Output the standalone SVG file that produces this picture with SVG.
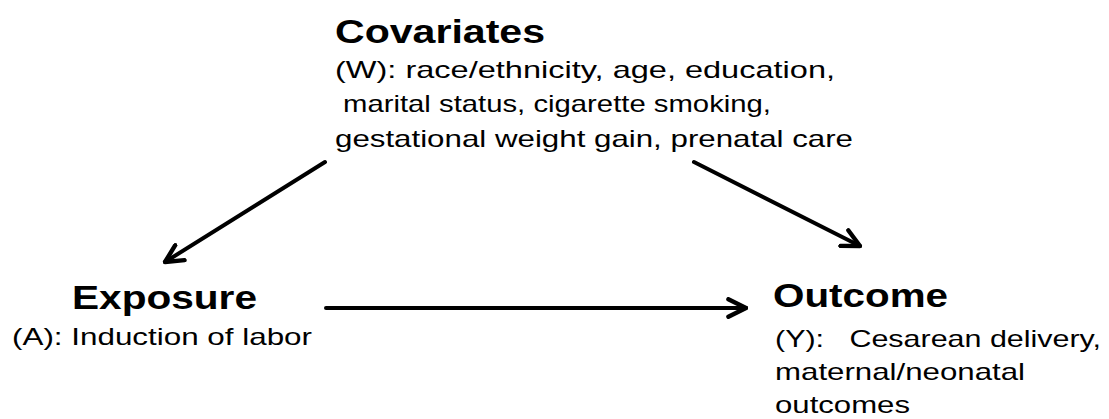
<svg xmlns="http://www.w3.org/2000/svg" width="1109" height="419" viewBox="0 0 1109 419">
<style>
.t{font-family:"Liberation Sans",Arial,sans-serif;font-weight:bold;font-size:34px;fill:#000}
.b{font-family:"Liberation Sans",Arial,sans-serif;font-size:24px;fill:#000}
.c{stroke:#000;stroke-width:4;fill:none;stroke-linecap:round}
</style>
<defs>
<marker id="ah" viewBox="0 0 10 10" refX="9" refY="5" markerWidth="5.5" markerHeight="5.5" orient="auto" markerUnits="strokeWidth">
<path d="M1,1 L9,5 L1,9" fill="none" stroke="#000" stroke-width="2" stroke-linecap="round" stroke-linejoin="round"/>
</marker>
</defs>
<rect width="1109" height="419" fill="#fff"/>
<g id="covariates">
<text class="t" x="335" y="43" textLength="210" lengthAdjust="spacingAndGlyphs">Covariates</text>
<text class="b" x="335" y="78" textLength="500" lengthAdjust="spacingAndGlyphs">(W): race/ethnicity, age, education,</text>
<text class="b" x="343" y="112" textLength="428" lengthAdjust="spacingAndGlyphs">marital status, cigarette smoking,</text>
<text class="b" x="335" y="147" textLength="518" lengthAdjust="spacingAndGlyphs">gestational weight gain, prenatal care</text>
</g>
<g id="exposure">
<text class="t" x="72" y="309" textLength="185" lengthAdjust="spacingAndGlyphs">Exposure</text>
<text class="b" x="12" y="345" textLength="300" lengthAdjust="spacingAndGlyphs">(A): Induction of labor</text>
</g>
<g id="outcome">
<text class="t" x="773" y="307" textLength="175" lengthAdjust="spacingAndGlyphs">Outcome</text>
<text class="b" x="775" y="347" textLength="326" lengthAdjust="spacingAndGlyphs" xml:space="preserve">(Y):   Cesarean delivery,</text>
<text class="b" x="775" y="380" textLength="250" lengthAdjust="spacingAndGlyphs">maternal/neonatal</text>
<text class="b" x="775" y="413" textLength="135" lengthAdjust="spacingAndGlyphs">outcomes</text>
</g>
<g id="connectors">
<line class="c" x1="325" y1="162" x2="165" y2="262" marker-end="url(#ah)"/>
<line class="c" x1="694" y1="162" x2="860" y2="246" marker-end="url(#ah)"/>
<line class="c" x1="326" y1="308" x2="746" y2="308" marker-end="url(#ah)"/>
</g>
</svg>
